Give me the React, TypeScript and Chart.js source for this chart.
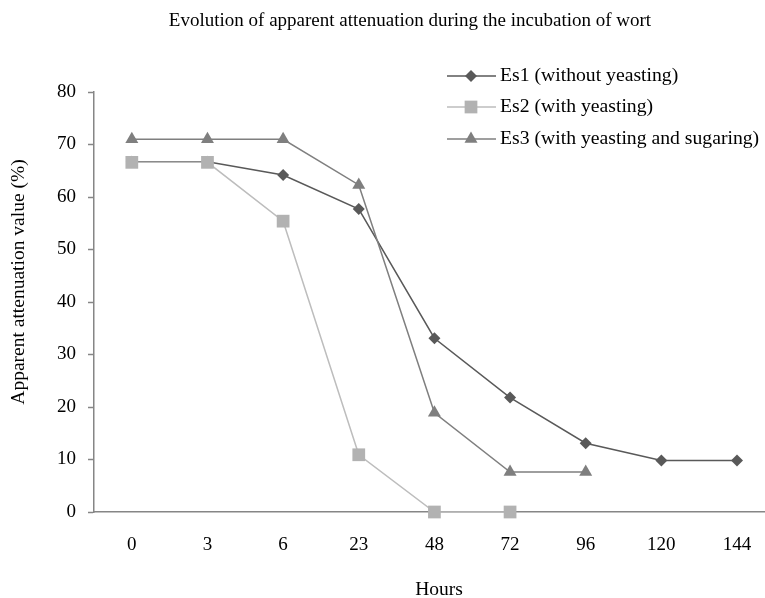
import React, { useEffect, useRef } from "react";
import { Chart, registerables } from "chart.js";

Chart.register(...registerables);

const TITLE = "Evolution of apparent attenuation during the incubation of wort";
const Y_TITLE = "Apparent attenuation value (%)";
const X_TITLE = "Hours";
const hours = ["0", "3", "6", "23", "48", "72", "96", "120", "144"];
const es1 = [66.7, 66.7, 64.2, 57.7, 33.1, 21.8, 13.1, 9.8, 9.8];
const es2 = [66.6, 66.6, 55.4, 10.9, 0, 0];
const es3 = [71, 71, 71, 62.3, 18.9, 7.6, 7.6];
const seriesNames = ["Es1 (without yeasting)", "Es2 (with yeasting)", "Es3 (with yeasting and sugaring)"];
const yTicks = [0, 10, 20, 30, 40, 50, 60, 70, 80];

const FONT = "'Liberation Serif', 'Times New Roman', serif";
const C1 = "#595959";
const C2 = "#b2b2b2";
const C3 = "#7f7f7f";

const toXY = (arr: number[]) => arr.map((v, i) => ({ x: i, y: v }));

export default function App() {
  const ref = useRef<HTMLCanvasElement | null>(null);
  useEffect(() => {
    document.body.style.margin = "0";
    const canvas = ref.current!;
    function drawMarker(ctx: any, style: string, r: number, x: number, y: number) {
      ctx.beginPath();
      if (style === "rectRot") {
        ctx.moveTo(x, y - r);
        ctx.lineTo(x + r, y);
        ctx.lineTo(x, y + r);
        ctx.lineTo(x - r, y);
      } else if (style === "rect") {
        const s = r * Math.SQRT1_2;
        ctx.rect(x - s, y - s, 2 * s, 2 * s);
      } else {
        const w = r * Math.sin(Math.PI / 3);
        ctx.moveTo(x, y - r);
        ctx.lineTo(x + w, y + r / 2);
        ctx.lineTo(x - w, y + r / 2);
      }
      ctx.closePath();
      ctx.fill();
    }
    const textPlugin = {
      id: "texts",
      afterDraw(chart: any) {
        const ctx = chart.ctx;
        ctx.save();
        ctx.fillStyle = "#000";
        ctx.font = `19px ${FONT}`;
        ctx.textAlign = "center";
        ctx.textBaseline = "middle";
        ctx.fillText(TITLE, 410, 21);
        ctx.font = `19.5px ${FONT}`;
        ctx.fillText(X_TITLE, 439, 590);
        ctx.save();
        ctx.translate(19, 282);
        ctx.rotate(-Math.PI / 2);
        ctx.fillText(Y_TITLE, 0, 0);
        ctx.restore();
        const rows = [76, 107, 139];
        chart.data.datasets.forEach((ds: any, i: number) => {
          const y = rows[i];
          ctx.strokeStyle = ds.borderColor;
          ctx.lineWidth = 1.5;
          ctx.beginPath();
          ctx.moveTo(447, y);
          ctx.lineTo(496, y);
          ctx.stroke();
          ctx.fillStyle = ds.pointBackgroundColor;
          drawMarker(ctx, ds.pointStyle, ds.pointRadius, 471, y);
          ctx.fillStyle = "#000";
          ctx.textAlign = "left";
          ctx.font = `19.7px ${FONT}`;
          ctx.fillText(ds.label, 500, y);
        });
        ctx.restore();
      },
    };
    const chart = new Chart(canvas, {
      type: "line",
      data: {
        datasets: [
          {
            label: seriesNames[0],
            data: toXY(es1),
            borderColor: C1,
            backgroundColor: C1,
            pointBackgroundColor: C1,
            pointBorderColor: C1,
            pointStyle: "rectRot",
            pointRadius: 6,
            pointBorderWidth: 0,
            borderWidth: 1.5,
            order: 3,
            clip: false,
          },
          {
            label: seriesNames[1],
            data: toXY(es2),
            borderColor: "#bdbdbd",
            backgroundColor: C2,
            pointBackgroundColor: C2,
            pointBorderColor: C2,
            pointStyle: "rect",
            pointRadius: 9,
            pointBorderWidth: 0,
            borderWidth: 1.5,
            order: 2,
            clip: false,
          },
          {
            label: seriesNames[2],
            data: toXY(es3),
            borderColor: C3,
            backgroundColor: C3,
            pointBackgroundColor: C3,
            pointBorderColor: C3,
            pointStyle: "triangle",
            pointRadius: 7.5,
            pointBorderWidth: 0,
            borderWidth: 1.5,
            order: 1,
            clip: false,
          },
        ] as any,
      },
      options: {
        animation: false,
        responsive: false,
        layout: { autoPadding: false, padding: { top: 92, left: 0, right: 0, bottom: 0 } },
        plugins: { legend: { display: false }, title: { display: false }, tooltip: { enabled: false } },
        scales: {
          x: {
            type: "linear",
            min: -0.5,
            max: 8.37,
            afterBuildTicks: (s: any) => {
              s.ticks = hours.map((_, i) => ({ value: i }));
            },
            afterFit: (s: any) => {
              s.height = 86;
              s.paddingLeft = 0;
              s.paddingRight = 0;
            },
            ticks: {
              callback: (v: any) => hours[v as number] ?? "",
              color: "#000",
              font: { family: FONT, size: 19 },
              padding: 22,
              maxRotation: 0,
              autoSkip: false,
            },
            grid: { display: true, drawOnChartArea: false, drawTicks: false, color: "#868686" },
            border: { color: "#868686", width: 1.5 },
          },
          y: {
            min: 0,
            max: 80,
            afterBuildTicks: (s: any) => {
              s.ticks = yTicks.map((v) => ({ value: v }));
            },
            afterFit: (s: any) => {
              s.width = 94;
              s.paddingTop = 0;
              s.paddingBottom = 0;
            },
            ticks: {
              color: "#000",
              font: { family: FONT, size: 19 },
              padding: 12,
            },
            grid: { display: true, drawOnChartArea: false, drawTicks: true, tickLength: 6, color: "#868686", tickWidth: 1.5 },
            border: { color: "#868686", width: 1.5 },
          },
        },
      },
      plugins: [textPlugin],
    } as any);
    return () => chart.destroy();
  }, []);
  return <canvas ref={ref} width={765} height={598} style={{ display: "block" }} />;
}
